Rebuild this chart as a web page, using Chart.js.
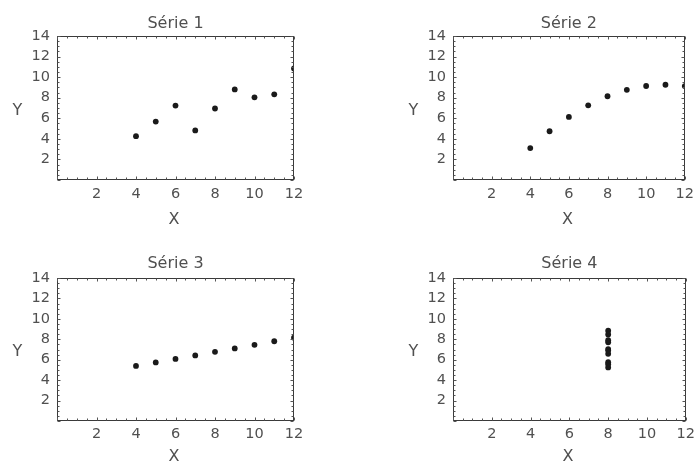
<!DOCTYPE html>
<html><head><meta charset="utf-8">
<script src="https://cdn.jsdelivr.net/npm/chart.js@4"></script>
<style>
html,body{margin:0;padding:0;background:#fff;}
#wrap{position:relative;width:700px;height:462px;overflow:hidden;background:#fff;}
.panel{position:absolute;width:350px;height:231px;}
canvas{display:block;}
</style></head><body>
<div id="wrap">
<div class="panel" style="left:0;top:0"><canvas id="c1" width="350" height="231"></canvas></div>
<div class="panel" style="left:350px;top:0"><canvas id="c2" width="350" height="231"></canvas></div>
<div class="panel" style="left:0;top:231px"><canvas id="c3" width="350" height="231"></canvas></div>
<div class="panel" style="left:350px;top:231px"><canvas id="c4" width="350" height="231"></canvas></div>
</div>
<script>
// ---- data ----
const titles = ['Série 1', 'Série 2', 'Série 3', 'Série 4'];
const xTicks = [2, 4, 6, 8, 10, 12];
const yTicks = [2, 4, 6, 8, 10, 12, 14];
const x123 = [4, 5, 6, 7, 8, 9, 10, 11, 12];
const y1 = [4.26, 5.68, 7.24, 4.82, 6.95, 8.81, 8.04, 8.33, 10.84];
const y2 = [3.10, 4.74, 6.13, 7.26, 8.14, 8.77, 9.14, 9.26, 9.13];
const y3 = [5.39, 5.73, 6.08, 6.42, 6.77, 7.11, 7.46, 7.81, 8.15];
const x4 = [8, 8, 8, 8, 8, 8, 8, 8, 8, 8];
const y4 = [6.58, 5.76, 7.71, 8.84, 8.47, 7.04, 5.25, 5.56, 7.91, 6.89];

const FONT = '"DejaVu Sans", Verdana, sans-serif';
const TXT = '#505050';
const W = 350, H = 231;

const panels = [
  {id:'c1', xs:x123, ys:y1, title:titles[0], area:{left:57, right:294, top:36, bottom:180}, titleBase:29, xPad:6, xTitleBase:224},
  {id:'c2', xs:x123, ys:y2, title:titles[1], area:{left:103, right:340, top:36, bottom:180}, titleBase:29, xPad:6, xTitleBase:224},
  {id:'c3', xs:x123, ys:y3, title:titles[2], area:{left:57, right:294, top:47, bottom:190}, titleBase:37.3, xPad:5, xTitleBase:229.5},
  {id:'c4', xs:x4, ys:y4, title:titles[3], area:{left:103, right:340, top:47, bottom:190}, titleBase:37.3, xPad:5, xTitleBase:229.5}
];

const framePlugin = {
  id: 'frame',
  afterDatasetsDraw(chart, args, opts) {
    const ctx = chart.ctx, a = chart.chartArea;
    const xs = chart.scales.x, ys = chart.scales.y;
    ctx.save();
    ctx.strokeStyle = '#3a3a3a';
    ctx.lineWidth = 1;
    const L = Math.round(a.left) + 0.5, R = Math.round(a.right) - 0.5;
    const T = Math.round(a.top) + 0.5, B = Math.round(a.bottom) - 0.5;
    ctx.strokeRect(L, T, R - L, B - T);
    ctx.strokeStyle = '#555';
    ctx.beginPath();
    for (let v = 0; v <= xs.max + 1e-9; v += 0.5) {
      const px = Math.round(xs.getPixelForValue(v)) + 0.5;
      const len = (Math.abs(v % 2) < 1e-9) ? 3 : 2;
      ctx.moveTo(px, B); ctx.lineTo(px, B - len);
      ctx.moveTo(px, T); ctx.lineTo(px, T + len);
    }
    for (let v = 0; v <= ys.max + 1e-9; v += 0.5) {
      const py = Math.round(ys.getPixelForValue(v)) + 0.5;
      const len = (Math.abs(v % 2) < 1e-9) ? 3 : 2;
      ctx.moveTo(L, py); ctx.lineTo(L + len, py);
      ctx.moveTo(R, py); ctx.lineTo(R - len, py);
    }
    ctx.stroke();
    ctx.restore();
  },
  afterDraw(chart, args, opts) {
    const ctx = chart.ctx, a = chart.chartArea;
    ctx.save();
    ctx.fillStyle = TXT;
    ctx.font = '16px ' + FONT;
    ctx.textAlign = 'center';
    ctx.textBaseline = 'alphabetic';
    ctx.fillText('X', (a.left + a.right) / 2 - 1.5, opts.xTitleBase);
    ctx.fillText('Y', a.left - 39.5, (a.top + a.bottom) / 2 + 6.5);
    ctx.restore();
  }
};

panels.forEach(p => {
  const a = p.area;
  const titleMid = p.titleBase - 4.75;
  const pt = titleMid - 9.6;
  const pb = a.top - pt - 19.2;
  new Chart(document.getElementById(p.id), {
    type: 'scatter',
    data: {
      datasets: [{
        data: p.xs.map((x, i) => ({x: x, y: p.ys[i]})),
        backgroundColor: '#1a1a1a',
        borderWidth: 0,
        pointRadius: 2.9,
        pointHoverRadius: 2.9,
        clip: 0
      }]
    },
    options: {
      responsive: false,
      animation: false,
      devicePixelRatio: 1,
      events: [],
      layout: {padding: {left: 0, top: 0, bottom: 0, right: W - a.right}},
      plugins: {
        legend: {display: false},
        tooltip: {enabled: false},
        title: {
          display: true, text: p.title, fullSize: false,
          color: TXT, font: {family: FONT, size: 16, weight: 'normal', lineHeight: 1.2},
          padding: {top: pt, bottom: pb}
        },
        frame: {xTitleBase: p.xTitleBase}
      },
      scales: {
        x: {
          type: 'linear', min: 0, max: 12,
          grid: {display: false, drawTicks: false},
          border: {display: false},
          ticks: {
            stepSize: 2, autoSkip: false, maxRotation: 0, padding: p.xPad,
            color: TXT, font: {family: FONT, size: 14.5},
            callback: v => xTicks.includes(v) ? String(v) : ''
          },
          afterFit: s => { s.height = H - a.bottom; }
        },
        y: {
          type: 'linear', min: 0, max: 14,
          grid: {display: false, drawTicks: false},
          border: {display: false},
          ticks: {
            stepSize: 2, autoSkip: false, padding: 7,
            color: TXT, font: {family: FONT, size: 14.5},
            callback: v => yTicks.includes(v) ? String(v) : ''
          },
          afterFit: s => { s.width = a.left; }
        }
      }
    },
    plugins: [framePlugin]
  });
});
</script>
</body></html>
